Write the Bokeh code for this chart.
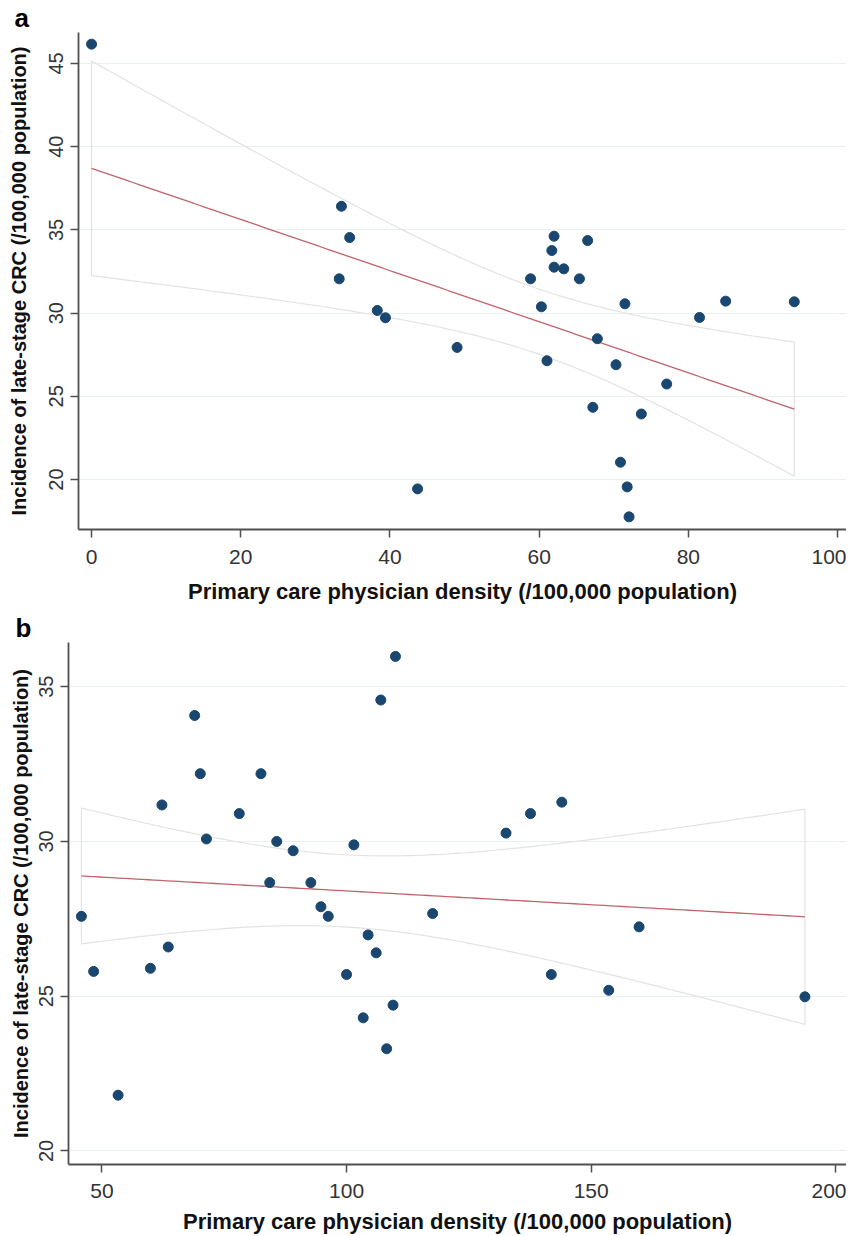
import numpy as np
from bokeh.plotting import figure
from bokeh.layouts import column, row
from bokeh.models import FixedTicker, Range1d
from bokeh.embed import file_html
from bokeh.resources import INLINE

# ---------------- data ----------------
# Panel a: primary care physician density vs late-stage CRC incidence
a_x = [0.0, 33.5, 34.6, 33.2, 38.3, 39.4, 43.7, 49.0, 58.85, 60.3, 61.05, 61.7,
       62.0, 62.0, 63.3, 65.4, 66.5, 67.2, 67.8, 70.3, 70.9, 71.5, 71.8, 72.05,
       73.7, 77.1, 81.5, 85.0, 94.2]
a_y = [46.16, 36.42, 34.54, 32.06, 30.16, 29.72, 19.44, 27.94, 32.06, 30.38, 27.14, 33.76,
       34.62, 32.76, 32.66, 32.06, 34.36, 24.34, 28.46, 26.9, 21.04, 30.56, 19.56, 17.76,
       23.94, 25.74, 29.74, 30.72, 30.68]

# Panel b
b_x = [45.8, 48.3, 53.3, 59.9, 62.26, 63.55, 68.95, 70.1, 71.36, 78.07, 82.5, 84.3,
       85.73, 89.08, 92.7, 94.76, 96.26, 100.0, 101.5, 103.4, 104.4, 106.06, 107.0,
       108.2, 109.5, 110.0, 117.6, 132.6, 137.6, 141.85, 144.0, 153.6, 159.8, 193.7]
b_y = [27.58, 25.8, 21.8, 25.9, 31.18, 26.59, 34.07, 32.19, 30.08, 30.9, 32.19, 28.67,
       30.0, 29.7, 28.67, 27.89, 27.58, 25.7, 29.89, 24.3, 26.98, 26.4, 34.57,
       23.3, 24.71, 35.98, 27.67, 30.27, 30.9, 25.7, 31.27, 25.19, 27.24, 24.98]

a_xticks = [0, 20, 40, 60, 80, 100]
a_yticks = [20, 25, 30, 35, 40, 45]
b_xticks = [50, 100, 150, 200]
b_yticks = [20, 25, 30, 35]

x_title = "Primary care physician density (/100,000 population)"
y_title = "Incidence of late-stage CRC (/100,000 population)"

FONT = "Liberation Sans"
POINT = "#1a476f"
FIT = "#c0646a"
CI = "#e3e3e3"
GRID = "#e8f0f1"
AXIS = "#505050"


def fit_ci(xs, ys, n_pts=120):
    x = np.asarray(xs, float)
    y = np.asarray(ys, float)
    n = len(x)
    b1, b0 = np.polyfit(x, y, 1)
    resid = y - (b0 + b1 * x)
    s = np.sqrt(np.sum(resid ** 2) / (n - 2))
    xbar = x.mean()
    sxx = np.sum((x - xbar) ** 2)
    t = 2.05 if n < 32 else 2.035
    xg = np.linspace(x.min(), x.max(), n_pts)
    yg = b0 + b1 * xg
    se = s * np.sqrt(1.0 / n + (xg - xbar) ** 2 / sxx)
    return xg, yg, yg - t * se, yg + t * se


def make_panel(xs, ys, xticks, yticks, xr, yr, w, h, bl, bt, bb, letter,
               letter_offset, xl_so, xt_so, yt_so):
    p = figure(width=w, height=h, output_backend="svg", toolbar_location=None,
               x_range=Range1d(*xr), y_range=Range1d(*yr),
               min_border_left=bl, min_border_right=0, min_border_top=bt,
               min_border_bottom=bb)
    p.outline_line_color = None
    p.background_fill_color = "white"
    p.border_fill_color = "white"

    p.title.text = letter
    p.title.align = "left"
    p.title.offset = letter_offset
    p.title.standoff = 0
    p.title.text_font = FONT
    p.title.text_font_size = "26px"
    p.title.text_font_style = "bold"
    p.title.text_color = "black"

    xg, yg, lo, hi = fit_ci(xs, ys)
    # CI band outline (closed polygon)
    px = list(xg) + list(xg[::-1])
    py = list(hi) + list(lo[::-1])
    p.patch(px, py, fill_alpha=0, line_color=CI, line_width=1.2)
    p.line(xg, yg, line_color=FIT, line_width=1.3)
    p.scatter(xs, ys, size=10, marker="circle", fill_color=POINT, line_color=POINT)

    p.xgrid.grid_line_color = None
    p.ygrid.grid_line_color = GRID
    p.ygrid.grid_line_width = 1.2
    p.ygrid.ticker = FixedTicker(ticks=yticks)

    for ax in (p.xaxis[0], p.yaxis[0]):
        ax.axis_line_color = AXIS
        ax.axis_line_width = 1.8
        ax.major_tick_line_color = AXIS
        ax.major_tick_line_width = 1.5
        ax.major_tick_out = 8
        ax.major_tick_in = 0
        ax.minor_tick_line_color = None
        ax.major_label_text_font = FONT
        ax.major_label_text_color = "#333333"
        ax.axis_label_text_font = FONT
        ax.axis_label_text_font_style = "bold"
        ax.axis_label_text_color = "#111111"

    p.xaxis[0].major_label_text_font_size = "21px"
    p.yaxis[0].major_label_text_font_size = "20px"
    p.xaxis[0].axis_label_text_font_size = "22px"
    p.yaxis[0].axis_label_text_font_size = "20px"

    p.xaxis[0].ticker = FixedTicker(ticks=xticks)
    p.yaxis[0].ticker = FixedTicker(ticks=yticks)
    p.xaxis[0].axis_label = x_title
    p.yaxis[0].axis_label = y_title
    p.yaxis[0].major_label_orientation = "vertical"
    p.xaxis[0].major_label_standoff = xl_so
    p.xaxis[0].axis_label_standoff = xt_so
    p.yaxis[0].major_label_standoff = 7
    p.yaxis[0].axis_label_standoff = yt_so
    return p


pa = make_panel(a_x, a_y, a_xticks, a_yticks, (-1.75, 101.2), (17.0, 46.86),
                846, 606, 78, 31, 77, "a", -64, 12, 12, 17)
pb = make_panel(b_x, b_y, b_xticks, b_yticks, (43.16, 202.2), (19.56, 36.43),
                846, 630, 68, 36, 72, "b", -53, 11, 8, 5)

layout = column(row(pa), row(pb), spacing=0)
open("out.html", "w").write(file_html(layout, INLINE))
